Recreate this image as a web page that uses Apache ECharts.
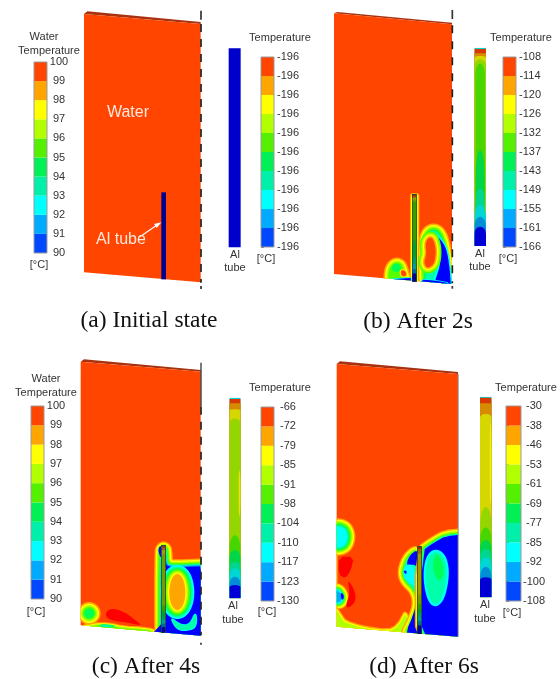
<!DOCTYPE html>
<html><head><meta charset="utf-8">
<style>html,body{margin:0;padding:0;background:#fff}#c{width:560px;height:679px;filter:blur(0.5px)}</style>
<script src="https://cdn.jsdelivr.net/npm/echarts@6/dist/echarts.min.js"></script>
</head><body><div id="c"></div>
<script>
// Contour colour levels (0 = coldest, 9 = hottest), 10 = hot-spot red
const levelColors = ['#0000ff','#00aaff','#00ffff','#00ffaa','#00ff55','#55ff00','#b2ff00','#ffff00','#ffa500','#ff4500','#ff0000'];
const barColors   = ['#0048ff','#00aaff','#00ffff','#00f0aa','#00f055','#55f000','#b2ff00','#ffff00','#ffa500','#ff4500'];

// Colour-bar tick labels, top to bottom
const waterTicks = ['100','99','98','97','96','95','94','93','92','91','90'];
const tempTicksA = ['-196','-196','-196','-196','-196','-196','-196','-196','-196','-196','-196'];
const tempTicksB = ['-108','-114','-120','-126','-132','-137','-143','-149','-155','-161','-166'];
const tempTicksC = ['-66','-72','-79','-85','-91','-98','-104','-110','-117','-123','-130'];
const tempTicksD = ['-30','-38','-46','-53','-61','-69','-77','-85','-92','-100','-108'];
const bandLevels = [0,1,2,3,4,5,6,7,8,9];

// Al tube contour bands: [level, arch apex, arch edge, side inset]
const tubeBandsB = [[2,143,143,0],[9,147,147,0],[8,160,160,0],[7,168,172,0],[6,178,195,0],[5,190,225,3],[4,450,530,4],[3,565,610,3],[2,615,650,0],[1,650,680,0],[0,680,702,0]];
const tubeBandsC = [[2,143,143,0],[9,147,147,0],[8,160,160,0],[7,178,180,0],[6,205,225,0],[5,555,600,0],[4,600,625,0],[3,635,655,0],[2,655,680,0],[1,680,705,0],[0,705,712,0]];
const tubeBandsD = [[2,140,140,0],[9,143,143,0],[8,160,160,0],[7,192,202,0],[6,470,530,0],[5,532,570,0],[4,570,597,0],[3,597,622,0],[2,622,650,0],[1,650,682,0],[0,682,690,0]];

// Contour outlines in trace units (3 per pixel of each panel frame)
const plateA = [[252,42],[602,72],[602,847],[252,817]], sliverA = [[252,42],[262,34],[602,66],[602,72]];
const plateB = [[42,40],[396,73],[396,852],[42,822]],   sliverB = [[42,40],[52,36],[396,68],[396,73]];
const plateC = [[242,35],[602,65],[602,857],[242,826]], sliverC = [[242,35],[252,28],[602,60],[602,65]];
const plateD = [[50,42],[414,72],[414,860],[50,830]],   sliverD = [[50,42],[60,34],[414,66],[414,72]];

const b_sheath = [[279,588],[289,588],[289,870],[279,870]];
const b_leftVortex = [[204,860],[205,812],[216,792],[232,785],[246,793],[252,810],[258,832],[262,860]];
const b_leftInner = [[243,810],[256,813],[260,828],[244,828]];
const b_leftCore = [[218,792],[238,790],[245,808],[230,818],[214,811]];
const b_leftCold = [[215,838],[272,834],[275,870],[215,870]];
const b_rightPlume = [[316,890],[316,738],[322,702],[340,690],[358,700],[370,735],[378,790],[384,890]];
const b_crescent = [[346,702],[376,735],[388,790],[395,890],[335,890],[345,842],[362,792],[360,745]];
const b_rightCore = [[324,714],[338,712],[348,748],[344,788],[330,802],[318,802],[312,785],[320,762],[316,732]];
const b_bottomCold = [[298,838],[345,842],[392,850],[392,890],[298,890]];

const c_strip = [[235,835],[290,825],[330,826],[365,835],[420,838],[470,845],[470,890],[235,890]];
const c_stripCore = [[300,823],[345,827],[335,831],[305,831]];
const c_leftVortex = [[256,779],[267,774],[279,779],[284,790],[279,801],[267,806],[256,801],[251,790]];
const c_hotSpot = [[318,785],[338,774],[378,788],[405,810],[428,828],[385,818],[338,812],[318,802]];
const c_plume = [[486,890],[486,606],[490,596],[494,602],[496,646],[520,652],[625,648],[625,900],[486,900]];
const c_capCold = [[474,596],[484,584],[484,625],[478,615]];
const c_footCold = [[458,850],[484,822],[484,875],[458,875]];
const c_tail = [[510,800],[540,825],[570,825],[588,782],[590,832],[560,842],[530,838]];
const c_core = [[532,668],[550,684],[558,728],[550,768],[532,784],[514,768],[506,728],[514,684]];

const d_upperLeft = [[30,530],[72,530],[84,560],[72,592],[30,592]];
const d_wall = [[38,600],[44,600],[44,720],[38,720]];
const d_lowerLeft = [[30,720],[56,720],[68,745],[58,758],[30,758]];
const d_lowerDot = [[62,726],[72,735],[70,750],[63,746]];
const d_floor = [[38,775],[46,775],[62,800],[75,818],[130,835],[205,845],[235,830],[262,780],[262,880],[38,880]];
const d_hotUpper = [[56,620],[102,620],[92,662],[75,686],[56,672]];
const d_hotLower = [[82,686],[104,720],[108,752],[88,774],[76,768],[90,730]];
const d_leftPlume = [[300,596],[266,616],[248,658],[252,690],[286,722],[294,765],[274,820],[254,855],[300,890]];
const d_leftColdLow = [[294,742],[278,800],[260,840],[260,890],[296,890]];
const d_leftColdTop = [[296,596],[268,616],[258,648],[280,642],[296,654]];
const d_leftSwirl = [[254,646],[277,641],[288,680],[294,714],[270,700],[248,678]];
const d_swirlEye = [[249,662],[261,662],[258,675]];
const d_rightMass = [[304,604],[345,576],[378,558],[430,554],[430,900],[304,900]];
const d_rightSwirl = [[345,602],[372,618],[382,670],[369,742],[345,768],[326,742],[316,680],[323,624]];
const d_rightEye = [[350,606],[368,636],[372,670],[360,696],[343,674],[337,640]];

const arrowShaft = [[420,710],[470,676]], arrowHead = [[484,667],[462,672],[470,684]];

function fill(pts, levels, ring, smooth){ return {k:'fill', pts, levels, ring: ring||0, smooth: smooth===undefined?3:smooth}; }
function edge(x, y0, y1, dash, color, width){ return {k:'edge', x, y0, y1, dash, color, width:width||1.7}; }
function tube(x0,x1,y0,y1,bands,end,dim,outline,strip){ return {k:'tube',x0,x1,y0,y1,bands,end,dim,outline,strip}; }
function solid(x0,x1,y0,y1,color){ return {k:'solid',x0,x1,y0,y1,color}; }
function sliver(pts){ return {k:'sliver',pts}; }

const panels = [
 {left:0,top:0,w:320,h:340,plate:plateA,layers:[
   sliver(sliverA), {k:'plate'},
   solid(484,498,577,838,'#00008c'),
   {k:'white',shaft:arrowShaft,head:arrowHead},
   edge(603,32,62,[9,3],'#333'), edge(603,72,848,[8,7],'#222'), edge(603,858,868,[3,3],'#333'),
   solid(686,722,145,742,'#0000cc')
 ]},
 {left:320,top:0,w:240,h:340,plate:plateB,layers:[
   sliver(sliverB), {k:'plate'},
   fill(b_sheath,[8,7,6,5],1,0),
   fill(b_leftVortex,[8,7,6,5],1.6),
   fill(b_leftCore,[4],0),
   fill(b_leftInner,[7,8,9],0.7),
   fill(b_leftCold,[2,0],0.8,0),
   fill(b_rightPlume,[8,7,6,5,4,3],1.5),
   fill(b_crescent,[2,0],1.5),
   fill(b_rightCore,[5,6,7,8,9],1.5),
   fill(b_bottomCold,[2,0],0.8,1),
   tube(276,290,582,845,tubeBandsB,738,0.62,true),
   edge(397,30,60,[9,2],'#333'), edge(397,76,850,[8,8],'#222'), edge(397,858,866,[3,3],'#333'),
   tube(463,498,143,738,tubeBandsB,738,0.84,false,[[463,466,190,540,'#a0d000'],[495,498,190,540,'#a0d000']])
 ]},
 {left:0,top:350,w:320,h:329,plate:plateC,layers:[
   sliver(sliverC), {k:'plate'},
   fill(c_strip,[8,7,6,5],1,2),
   fill(c_stripCore,[4,3],0.6),
   fill(c_leftVortex,[8,7,6,5,4],1.6),
   fill(c_hotSpot,[10],0),
   fill(c_plume,[8,7,6,5,3,1,0],1.3,1),
   fill(c_capCold,[0],0),
   fill(c_footCold,[0],0,0),
   fill(c_tail,[2,3],0.8),
   fill(c_core,[2,3,4,5,6,7,8],1.5),
   tube(484,497,585,848,tubeBandsC,745,0.62,true),
   edge(603,38,170,null,'#222',1.2), edge(603,170,856,[8,7],'#222'), edge(603,878,884,[3,3],'#333'),
   tube(688,722,143,745,tubeBandsC,745,0.84,false,[[716,722,345,515,'#e6e600']])
 ]},
 {left:320,top:350,w:240,h:329,plate:plateD,layers:[
   sliver(sliverD), {k:'plate'},
   fill(d_wall,[8,7,6],1.5,0),
   fill(d_upperLeft,[8,7,6,5,4,3,2],1.4),
   fill(d_lowerLeft,[8,7,6,5,3,2,1],1.2),
   fill(d_lowerDot,[1,0],0),
   fill(d_floor,[8,7,6],1.3,1),
   fill(d_hotUpper,[10],0,1),
   fill(d_hotLower,[10],0),
   fill(d_leftPlume,[8,7,6,5,3],1.4),
   fill(d_leftColdLow,[0],0,1),
   fill(d_leftColdTop,[0],0),
   fill(d_leftSwirl,[2],0),
   fill(d_swirlEye,[0],0),
   fill(d_rightMass,[8,7,6,5,3,0],1.3,1),
   fill(d_rightSwirl,[2,3],2.4),
   fill(d_rightEye,[3,4],1),
   tube(292,305,588,852,tubeBandsD,742,0.62,true),
   edge(414.5,72,860,null,'#8a8a8a',1),
   tube(480,515,140,742,tubeBandsD,742,0.84,false,[[509,515,200,480,'#f0f000']])
 ]}
];

const bars = [
 {left:34,top:62,width:13,height:191,ticks:waterTicks,margin:12,tick:false},
 {left:261,top:57,width:13,height:190,ticks:tempTicksA,margin:14,tick:true},
 {left:503,top:57,width:13,height:190,ticks:tempTicksB,margin:14,tick:true},
 {left:31,top:406,width:13,height:193,ticks:waterTicks,margin:12,tick:false},
 {left:261,top:407,width:13,height:194,ticks:tempTicksC,margin:14,tick:false},
 {left:506,top:406,width:15,height:195,ticks:tempTicksD,margin:13,tick:true}
];

const sans = '"Liberation Sans"';
const serif = '"Liberation Serif"';
const textItems = [
 ['Water',44,37,11,'#333',sans],['Temperature',49,51,11,'#333',sans],['[°C]',39,265,11,'#333',sans],
 ['Water',128,113,16,'#ffe8dc',sans],['Al tube',121,240,16,'#ffe8dc',sans],
 ['Temperature',280,38,11,'#333',sans],['Al',235,255,11,'#333',sans],['tube',235,268,11,'#333',sans],['[°C]',266,259,11,'#333',sans],
 ['(a) Initial state',149,321,23.5,'#111',serif],
 ['Temperature',521,38,11,'#333',sans],['Al',480,254,11,'#333',sans],['tube',480,267,11,'#333',sans],['[°C]',508,259,11,'#333',sans],
 ['(b) After 2s',418,322,23.5,'#111',serif],
 ['Water',46,379,11,'#333',sans],['Temperature',46,393,11,'#333',sans],['[°C]',36,612,11,'#333',sans],
 ['Temperature',280,388,11,'#333',sans],['Al',233,606,11,'#333',sans],['tube',233,620,11,'#333',sans],['[°C]',267,612,11,'#333',sans],
 ['(c) After 4s',146,667,23.5,'#111',serif],
 ['Temperature',526,388,11,'#333',sans],['Al',485,605,11,'#333',sans],['tube',485,619,11,'#333',sans],['[°C]',512,613,11,'#333',sans],
 ['(d) After 6s',424,667,23.5,'#111',serif]
];

function dimColor(hex,f){
  const n=parseInt(hex.slice(1),16);
  const c=[n>>16,(n>>8)&255,n&255].map(v=>Math.round(v*f));
  return 'rgb('+c.join(',')+')';
}
// Corner-cutting so that traced outlines read as smooth contours
function rounded(pts,passes){
  let cur=pts;
  for(let k=0;k<passes;k++){
    const next=[];
    cur.forEach((p,i)=>{
      const q=cur[(i+1)%cur.length];
      next.push([p[0]*0.75+q[0]*0.25,p[1]*0.75+q[1]*0.25]);
      next.push([p[0]*0.25+q[0]*0.75,p[1]*0.25+q[1]*0.75]);
    });
    cur=next;
  }
  return cur;
}

function drawLayer(layer,panel,api){
  const P=p=>api.coord(p);
  const plateClip={type:'polygon',shape:{points:panel.plate.map(P)}};
  const box=(a,b,c,d)=>[[a,c],[b,c],[b,d],[a,d]].map(P);
  if(layer.k==='plate') return {type:'polygon',shape:{points:panel.plate.map(P)},style:{fill:levelColors[9]}};
  if(layer.k==='sliver') return {type:'polygon',shape:{points:layer.pts.map(P)},style:{fill:'#a8320f'}};
  if(layer.k==='solid') return {type:'polygon',shape:{points:box(layer.x0,layer.x1,layer.y0,layer.y1)},style:{fill:layer.color}};
  if(layer.k==='edge'){
    return {type:'polyline',shape:{points:[[layer.x,layer.y0],[layer.x,layer.y1]].map(P)},style:{fill:null,stroke:layer.color,lineWidth:layer.width,lineDash:layer.dash||null}};
  }
  if(layer.k==='white'){
    return {type:'group',children:[
      {type:'polyline',shape:{points:layer.shaft.map(P)},style:{fill:null,stroke:'#fff',lineWidth:1.2}},
      {type:'polygon',shape:{points:layer.head.map(P)},style:{fill:'#fff'}}
    ]};
  }
  if(layer.k==='fill'){
    const n=layer.levels.length;
    const pts=rounded(layer.pts,layer.smooth).map(P);
    return {type:'group',clipPath:plateClip,children:layer.levels.map((lv,i)=>({
      type:'polygon',shape:{points:pts},
      style:{fill:levelColors[lv],stroke:levelColors[lv],lineWidth:2*layer.ring*(n-1-i),lineJoin:'round'}
    }))};
  }
  if(layer.k==='tube'){
    const y0Ref=layer.bands[0][1];
    const mapY=y=>layer.y0+(y-y0Ref)/(layer.end-y0Ref)*(layer.y1-layer.y0);
    const w=layer.x1-layer.x0, mid=(layer.x0+layer.x1)/2;
    const scale=w/35;
    const kids=[];
    layer.bands.forEach((b,idx)=>{
      const inset=b[3]*scale, half=w/2-inset;
      const apex=mapY(b[1]), rim=mapY(b[2]);
      const top=[];
      for(const t of [-1,-0.9,-0.7,-0.4,0,0.4,0.7,0.9,1]){
        top.push([mid+t*half, rim-(rim-apex)*Math.sqrt(1-t*t)]);
      }
      kids.push({type:'polygon',shape:{points:top.concat([[mid+half,layer.y1],[mid-half,layer.y1]]).map(P)},style:{fill:dimColor(levelColors[b[0]],layer.dim)}});
    });
    (layer.strip||[]).forEach(s=>{
      const pts=rounded([[s[0],s[2]],[s[1],s[2]+40],[s[1],s[3]-40],[s[0],s[3]]],2);
      kids.push({type:'polygon',shape:{points:pts.map(P)},style:{fill:s[4]}});
    });
    if(layer.outline){
      kids.push({type:'polygon',shape:{points:box(layer.x0,layer.x1,layer.y0,layer.y1)},style:{fill:null,stroke:'#1c2b30',lineWidth:1}});
    }
    return {type:'group',clipPath:{type:'polygon',shape:{points:box(layer.x0,layer.x1,layer.y0,layer.y1)}},children:kids};
  }
}

const grid=[],xAxis=[],yAxis=[],series=[];
panels.forEach((p,i)=>{
  grid.push({left:p.left,top:p.top,width:p.w,height:p.h,show:false});
  xAxis.push({type:'value',gridIndex:i,min:0,max:p.w*3,show:false});
  yAxis.push({type:'value',gridIndex:i,min:0,max:p.h*3,inverse:true,show:false});
  series.push({type:'custom',xAxisIndex:i,yAxisIndex:i,silent:true,animation:false,clip:false,
    data:p.layers.map((l,j)=>[j]),encode:{x:-1,y:-1},
    renderItem:(params,api)=>drawLayer(p.layers[params.dataIndex],p,api)});
});
bars.forEach((b,n)=>{
  const i=panels.length+n;
  grid.push({left:b.left,top:b.top,width:b.width,height:b.height,show:true,borderColor:'#9a9a9a',borderWidth:1,backgroundColor:'transparent',z:5});
  xAxis.push({type:'value',gridIndex:i,min:0,max:1,show:false});
  yAxis.push({type:'value',gridIndex:i,min:0,max:10,interval:1,position:'right',splitLine:{show:false},
    axisLine:{show:false},axisTick:{show:b.tick,length:3,lineStyle:{color:'#777'}},
    axisLabel:{margin:b.margin,align:'center',color:'#333',fontSize:11,fontFamily:'Liberation Sans',
      showMinLabel:true,showMaxLabel:true,formatter:v=>b.ticks[10-v]}});
  series.push({type:'custom',xAxisIndex:i,yAxisIndex:i,silent:true,animation:false,
    data:bandLevels.map(l=>[0,l]),encode:{x:0,y:1},
    renderItem:(params,api)=>{
      const l=api.value(1);
      const a=api.coord([0,l+1]),c=api.coord([1,l]);
      return {type:'rect',shape:{x:a[0],y:a[1],width:c[0]-a[0],height:c[1]-a[1]},style:{fill:barColors[l]}};
    }});
});

const chart=echarts.init(document.getElementById('c'),null,{renderer:'canvas',width:560,height:679});
chart.setOption({animation:false,backgroundColor:'#fff',grid,xAxis,yAxis,series,
  graphic:{elements:textItems.map(t=>({type:'text',x:t[1],y:t[2],z:20,silent:true,
    style:{text:t[0],fill:t[4],font:t[3]+'px '+t[5],textAlign:'center',textVerticalAlign:'middle'}}))}
});
</script></body></html>
